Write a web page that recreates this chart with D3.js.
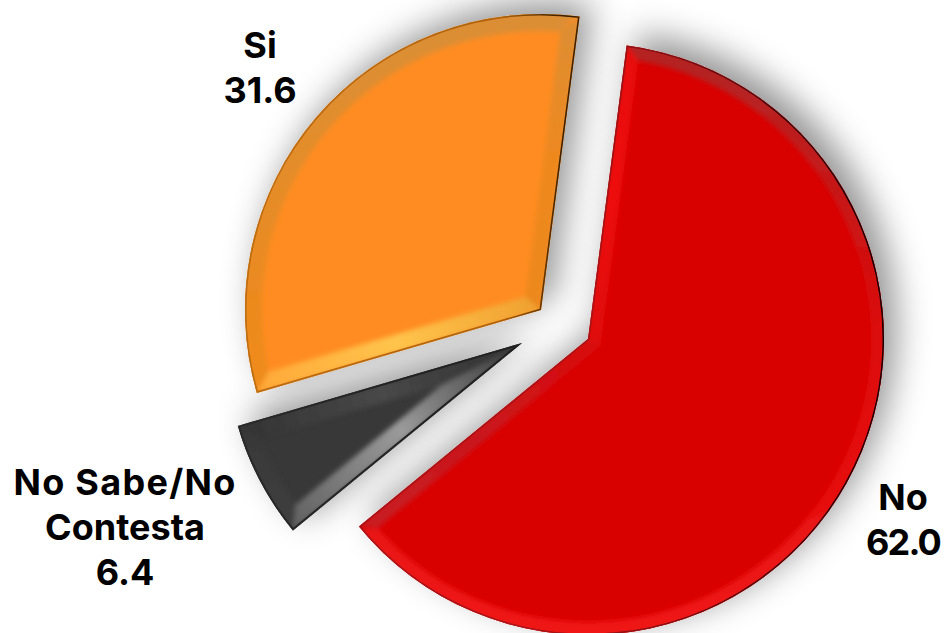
<!DOCTYPE html>
<html><head><meta charset="utf-8">
<script src="https://cdnjs.cloudflare.com/ajax/libs/d3/7.8.5/d3.min.js"></script>
<style>html,body{margin:0;padding:0;background:#fff;overflow:hidden}svg{display:block}text{font-family:Inter,Lato,sans-serif;font-weight:700;fill:#000}</style>
</head><body><svg id="c" width="944" height="633"></svg>
<script>
const categories = ["No", "No Sabe/No Contesta", "Si"];
const values = [62.0, 6.4, 31.6];
const labelLines = [["No", "62.0"], ["No Sabe/No", "Contesta", "6.4"], ["Si", "31.6"]];

const width = 944, height = 633, cx = 563, cy = 328, radius = 296;
const offsets = [[25, 11], [-41, 15], [-22, -18]];
const labelPos = [[903, 510], [125, 495], [260, 58]];
const lineSpacing = [[0, -1.8], [1.3, 0, 0], [0, 0]];
const lineH = 45;
const palettes = [
  {base:"#d90500", start:["#e81010","#ee1010","#e00a0a"], end:["#c81c22","#c8181e","#d80c0c"],
   arc:["#f01818","#dd0808","#b42424"], stroke:["#a81418","#a81418","#160000"], sx:[-240,0,290], sw:3, w:13},
  {base:"#383838", start:["#606060","#9a9a9a","#343434"], end:["#333333","#484848","#303030"],
   arc:["#454545","#333333","#2e2e2e"], stroke:["#2a2a2a","#222222","#222222"], sx:[-280,-120,-20], sw:4, w:18},
  {base:"#ff8c20", start:["#ffa838","#ffc44c","#f0a030"], end:["#dc8e34","#ee881e","#ec881e"],
   arc:["#f79022","#ec8a1e","#dc8e34"], stroke:["#bc6c12","#b0620c","#3e2200"], sx:[-290,-40,20], sw:3.2, w:17}
];

const svg = d3.select("#c");
const defs = svg.append("defs");
const shadow = defs.append("filter").attr("id","sh").attr("x","-30%").attr("y","-30%").attr("width","160%").attr("height","160%");
shadow.append("feDropShadow").attr("dx",12).attr("dy",-12).attr("stdDeviation",17).attr("flood-color","#000").attr("flood-opacity",0.42);
defs.append("filter").attr("id","soft").attr("x","-10%").attr("y","-10%").attr("width","120%").attr("height","120%")
  .append("feGaussianBlur").attr("stdDeviation",2.4);

const pie = d3.pie().sort(null).value(d => d).startAngle(7.5*Math.PI/180).endAngle(367.5*Math.PI/180);
const arcs = pie(values);
const arcGen = d3.arc().innerRadius(0).outerRadius(radius);
const pt = (a, r) => [r*Math.sin(a), -r*Math.cos(a)];

function grad(id, colors, p1, p2, offs) {
  const g = defs.append("linearGradient").attr("id",id).attr("gradientUnits","userSpaceOnUse")
    .attr("x1",p1[0]).attr("y1",p1[1]).attr("x2",p2[0]).attr("y2",p2[1]);
  colors.forEach((c, k) => g.append("stop").attr("offset",offs ? offs[k] : k/(colors.length-1)).attr("stop-color",c));
}

const line = d3.line();
arcs.forEach((d, i) => {
  const p = palettes[i], w = p.w;
  const half = (d.endAngle - d.startAngle)/2, mid = (d.startAngle + d.endAngle)/2;
  const inApex = pt(mid, w/Math.sin(half));
  const rIn = radius - w;
  const ang = Math.asin(Math.min(1, w/rIn));
  const a0 = d.startAngle + ang, a1 = d.endAngle - ang;
  const o0 = pt(d.startAngle, radius), o1 = pt(d.endAngle, radius);
  const i0 = pt(a0, rIn), i1 = pt(a1, rIn);
  const g = svg.append("g").attr("transform",`translate(${cx+offsets[i][0]},${cy+offsets[i][1]})`);
  const path = arcGen(d);
  grad("arcG"+i, p.arc, [0,radius], [0,-radius], [0,0.5,0.95]);
  grad("startG"+i, p.start, o0, [0,0], [0,0.5,1]);
  grad("endG"+i, p.end, o1, [0,0], [0,0.5,1]);
  const sw = (p.sx[1]-p.sx[0])/(p.sx[2]-p.sx[0]);
  grad("strokeG"+i, p.stroke, [p.sx[0],0], [p.sx[2],0], [0,sw,1]);
  defs.append("clipPath").attr("id","cl"+i).append("path").attr("d",path);

  g.append("path").attr("d",path).attr("fill",p.base).attr("filter","url(#sh)");
  const inner = g.append("g").attr("clip-path","url(#cl"+i+")").append("g").attr("filter","url(#soft)");
  const arcFace = d3.path();
  arcFace.moveTo(o0[0],o0[1]);
  arcFace.arc(0,0,radius+8,d.startAngle-Math.PI/2,d.endAngle-Math.PI/2);
  arcFace.lineTo(i1[0],i1[1]);
  arcFace.arc(0,0,rIn,a1-Math.PI/2,a0-Math.PI/2,true);
  arcFace.closePath();
  inner.append("path").attr("d",arcFace.toString()).attr("fill",`url(#arcG${i})`);
  inner.append("path").attr("d",line([[0,0],o0,i0,inApex])+"Z").attr("fill",`url(#startG${i})`)
    .attr("stroke",`url(#startG${i})`).attr("stroke-width",0.5);
  inner.append("path").attr("d",line([[0,0],o1,i1,inApex])+"Z").attr("fill",`url(#endG${i})`)
    .attr("stroke",`url(#endG${i})`).attr("stroke-width",0.5);
  g.append("path").attr("clip-path","url(#cl"+i+")")
    .attr("d",path).attr("fill","none").attr("stroke",`url(#strokeG${i})`).attr("stroke-width",p.sw);
});

labelLines.forEach((lines, i) => {
  const t = svg.append("text").attr("text-anchor","middle").attr("font-size",36);
  lines.forEach((s, k) => t.append("tspan").attr("x",labelPos[i][0]).attr("y",labelPos[i][1]+k*lineH)
    .attr("letter-spacing",lineSpacing[i][k]).text(s));
});
</script></body></html>
